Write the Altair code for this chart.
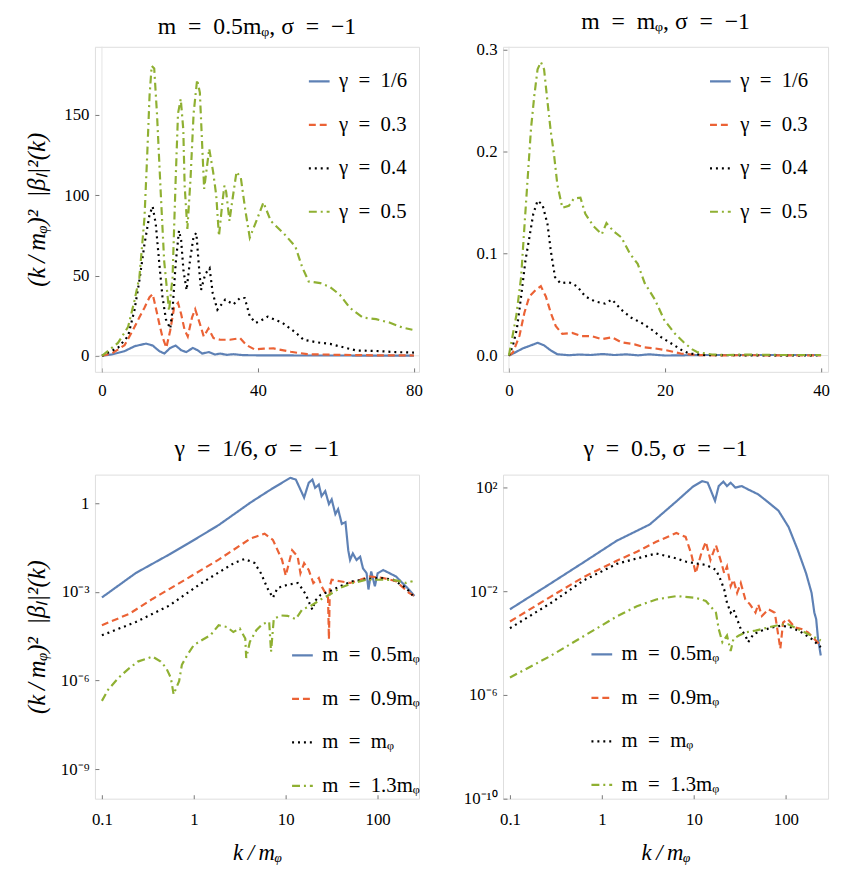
import altair as alt
import pandas as pd

FONT = "Liberation Serif"
COLORS = ["#5E81B5", "#EB6235", "#000000", "#8FB032"]
DASHES = [[1, 0], [7, 4], [2, 4], [8, 4, 2, 4]]

# ---------------- top-left: m = 0.5 m_phi (linear) ----------------
tl_g1_k = [0, 2.5, 5.8, 8.4, 11.3, 13.0, 14.7, 16.0, 17.5, 18.9, 20.3, 21.6, 23.3, 24.5, 25.7, 27.4, 29.0, 30.3, 32.0, 33.7, 36.2, 40, 50, 60, 70, 80]
tl_g1_v = [0, 0.8, 2.9, 6.0, 7.6, 6.4, 2.9, 1.4, 4.9, 6.4, 3.5, 2.3, 4.9, 3.5, 1.4, 2.3, 0.8, 1.4, 0.6, 1.0, 0.4, 0.3, 0.2, 0.2, 0.1, 0.1]
tl_g3_k = [0, 2.5, 5.8, 7.9, 9.6, 10.9, 12.2, 13.0, 13.8, 14.7, 15.5, 16.5, 17.5, 18.5, 19.5, 20.3, 21.2, 22.0, 23.1, 23.9, 25.1, 26.1, 27.3, 28.6, 30.3, 32.8, 35.4, 37.1, 39.1, 41.5, 44.0, 48.4, 52.6, 60, 70, 80]
tl_g3_v = [0, 1.4, 6.6, 15.8, 24, 30, 36.5, 38.5, 30, 20, 11.8, 5, 15.8, 30, 33, 26, 16, 12, 24, 29, 20, 12, 17, 11, 10, 10, 11, 6.6, 4, 4.5, 4.6, 2.5, 1.0, 0.6, 0.3, 0.2]
tl_g4_k = [0, 4.1, 6.7, 8.35, 9.6, 10.9, 12.2, 13.0, 13.8, 14.7, 15.5, 16.4, 17.5, 18.1, 18.9, 19.75, 20.3, 20.9, 21.7, 22.6, 23.5, 24.2, 24.8, 25.4, 26.5, 27.6, 28.4, 29.6, 31.6, 33.7, 35.4, 36.6, 37.9, 39.4, 40.8, 42.5, 46.2, 49.6, 51.7, 55.1, 58.5, 61.9, 65.2, 70.3, 75.3, 80]
tl_g4_v = [0, 5, 12.3, 28.7, 47, 69.5, 88, 93, 82, 57.5, 37, 22.7, 17, 28.7, 57.5, 78, 72, 53, 41, 60, 74.5, 76.5, 57.5, 41, 51, 54.5, 39, 28.7, 35, 32, 36, 36, 24.6, 20.5, 22, 24.4, 20.7, 14.6, 10, 8.4, 7.4, 5.3, 3.3, 3, 2.3, 2]
tl_g5_k = [0, 4.1, 6.7, 8.35, 9.6, 10.9, 11.6, 12.2, 12.75, 13.4, 14.1, 15.1, 15.95, 17.2, 18.1, 18.9, 19.5, 20.2, 20.85, 21.2, 21.9, 22.7, 23.5, 24.4, 25.1, 25.7, 26.2, 27.5, 28.5, 29.3, 30.0, 30.9, 31.4, 31.85, 32.7, 33.5, 34.5, 35.6, 36.8, 37.9, 39.6, 41.4, 43.3, 46.7, 49.6, 51.3, 53.0, 56.0, 58.5, 61.0, 63.5, 66.9, 70.3, 73.7, 77.0, 79.6]
tl_g5_v = [0, 8, 18, 34.6, 49, 86, 125, 162, 180.6, 179, 151, 100, 59, 28, 49, 110, 151, 160, 141, 106, 79, 110, 151, 172, 164, 131, 104, 129, 114.6, 100, 74.6, 96, 106, 102, 84, 98, 114.6, 111, 90, 73.6, 84, 95.5, 84, 76, 68, 55.5, 46.3, 45.3, 42.8, 38, 30, 23.8, 22.8, 20.7, 17.6, 16.2]

# ---------------- top-right: m = m_phi (linear) ----------------
tr_g1_k = [0, 0.3, 1.77, 2.83, 3.67, 4.5, 5.36, 6.2, 7.7, 9, 10.5, 12, 13.5, 15, 16.5, 18, 20, 25, 30, 35, 40]
tr_g1_v = [0, 0.001, 0.007, 0.010, 0.0125, 0.010, 0.005, 0.0013, 0.0003, 0.001, 0.0005, 0.0015, 0.0005, 0.0012, 0.0002, 0.0012, 0.0, 0.0005, 0.0005, 0.0005, 0.0005]
tr_g3_k = [0, 0.51, 1.35, 1.98, 2.62, 3.46, 4.09, 4.73, 5.36, 5.99, 6.84, 8.1, 9.37, 10.6, 11.9, 13.2, 14.4, 16.1, 17.4, 18.7, 20.3, 22.0, 24, 27, 30, 35, 40]
tr_g3_v = [0, 0.003, 0.0194, 0.042, 0.058, 0.0645, 0.068, 0.058, 0.042, 0.029, 0.0212, 0.0222, 0.019, 0.019, 0.016, 0.018, 0.013, 0.011, 0.008, 0.007, 0.005, 0.002, 0.0005, 0.0002, 0.0003, 0.0002, 0.0002]
tr_g4_k = [0, 0.51, 1.01, 1.56, 2.11, 2.62, 3.12, 3.67, 4.3, 4.94, 5.36, 5.9, 6.6, 7.68, 8.73, 9.79, 11.05, 12.3, 13.2, 14.4, 15.7, 17.0, 18.2, 19.5, 21.2, 22.2, 23.1, 25, 30, 35, 40]
tr_g4_v = [0, 0.01, 0.0258, 0.058, 0.093, 0.116, 0.139, 0.152, 0.148, 0.129, 0.103, 0.077, 0.071, 0.072, 0.068, 0.058, 0.053, 0.051, 0.055, 0.045, 0.037, 0.032, 0.026, 0.018, 0.010, 0.005, 0.002, 0.0005, 0.0002, 0.0002, 0.0002]
tr_g5_k = [0, 0.93, 1.56, 1.98, 2.4, 2.83, 3.25, 3.67, 4.09, 4.5, 4.94, 5.36, 5.78, 6.2, 6.84, 7.68, 8.31, 9.16, 9.79, 10.84, 11.9, 12.5, 13.4, 14.4, 15.5, 16.5, 17.4, 18.7, 19.9, 21.2, 22.4, 23.5, 24.1, 26, 28, 30, 35, 40]
tr_g5_v = [0, 0.0385, 0.077, 0.126, 0.174, 0.223, 0.255, 0.281, 0.288, 0.281, 0.249, 0.22, 0.197, 0.168, 0.145, 0.147, 0.154, 0.155, 0.139, 0.127, 0.119, 0.13, 0.122, 0.116, 0.1, 0.09, 0.071, 0.055, 0.035, 0.022, 0.013, 0.006, 0.0035, 0.001, 0.0005, 0.001, 0.0005, 0.0005]

# ---------------- bottom-left: gamma = 1/6 (log10 k, log10 value) ----------------
bl_m05_lk = [-1.0, -0.63, -0.27, -0.06, 0.27, 0.62, 0.84, 1.05, 1.11, 1.20, 1.25, 1.29, 1.32, 1.36, 1.39, 1.43, 1.47, 1.50, 1.54, 1.57, 1.61, 1.65, 1.68, 1.70, 1.73, 1.77, 1.81, 1.84, 1.88, 1.90, 1.93, 1.97, 2.00, 2.06, 2.13, 2.20, 2.27, 2.34, 2.40]
bl_m05_lv = [-3.19, -2.36, -1.74, -1.36, -0.74, 0.03, 0.47, 0.86, 0.80, 0.19, 0.69, 0.80, 0.52, 0.63, 0.24, 0.41, -0.03, 0.13, -0.37, -0.20, -0.70, -0.64, -1.59, -1.92, -1.70, -1.92, -1.81, -2.20, -2.37, -2.92, -2.31, -2.81, -2.37, -2.26, -2.37, -2.48, -2.70, -2.92, -3.14]
bl_m09_lk = [-1.0, -0.70, -0.45, -0.09, 0.27, 0.62, 0.77, 0.86, 0.96, 1.00, 1.07, 1.13, 1.16, 1.20, 1.25, 1.30, 1.36, 1.39, 1.43, 1.46, 1.47, 1.48, 1.50, 1.59, 1.70, 1.81, 1.91, 2.06, 2.20, 2.34, 2.40]
bl_m09_lv = [-4.13, -3.74, -3.24, -2.58, -1.91, -1.19, -1.03, -1.24, -1.92, -2.45, -1.59, -1.81, -2.37, -2.03, -2.26, -2.70, -2.53, -2.81, -3.03, -3.2, -4.6, -2.8, -2.59, -2.64, -2.70, -2.59, -2.48, -2.53, -2.64, -3.03, -3.14]
bl_m10_lk = [-1.0, -0.63, -0.27, 0.09, 0.44, 0.55, 0.66, 0.73, 0.80, 0.86, 0.91, 1.02, 1.13, 1.18, 1.22, 1.26, 1.29, 1.32, 1.38, 1.48, 1.59, 1.73, 1.88, 2.02, 2.17, 2.31, 2.38]
bl_m10_lv = [-4.47, -4.02, -3.47, -2.69, -2.02, -1.89, -2.02, -2.37, -2.87, -3.2, -2.87, -2.76, -2.70, -2.9, -3.1, -3.4, -3.6, -3.3, -3.1, -2.98, -2.81, -2.64, -2.57, -2.53, -2.59, -2.87, -3.12]
bl_m13_lk = [-1.0, -0.93, -0.82, -0.72, -0.61, -0.52, -0.45, -0.36, -0.30, -0.25, -0.22, -0.16, -0.13, -0.07, 0.0, 0.09, 0.18, 0.27, 0.36, 0.43, 0.50, 0.56, 0.57, 0.61, 0.68, 0.75, 0.82, 0.84, 0.87, 0.95, 1.02, 1.11, 1.18, 1.27, 1.38, 1.48, 1.59, 1.73, 1.88, 2.06, 2.20, 2.31, 2.38]
bl_m13_lv = [-6.69, -6.3, -5.91, -5.63, -5.36, -5.27, -5.19, -5.36, -5.58, -5.91, -6.47, -6.02, -5.47, -5.13, -4.8, -4.63, -4.47, -4.13, -4.19, -4.36, -4.24, -4.58, -5.24, -4.69, -4.3, -4.08, -4.02, -5.03, -3.91, -3.8, -3.81, -3.92, -3.59, -3.48, -3.26, -3.09, -2.87, -2.70, -2.59, -2.59, -2.61, -2.70, -2.64]

# ---------------- bottom-right: gamma = 0.5 (log10 k, log10 value) ----------------
br_m05_lk = [-1.0, -0.56, -0.20, 0.16, 0.52, 0.81, 0.99, 1.09, 1.15, 1.18, 1.23, 1.27, 1.32, 1.36, 1.40, 1.45, 1.52, 1.59, 1.70, 1.81, 1.92, 2.03, 2.13, 2.22, 2.28, 2.31, 2.33, 2.35, 2.38]
br_m05_lv = [-2.7, -1.71, -0.89, -0.06, 0.57, 1.46, 2.03, 2.24, 2.18, 1.92, 1.48, 2.05, 2.22, 2.05, 2.18, 1.99, 2.05, 1.92, 1.73, 1.42, 1.10, 0.47, -0.42, -1.31, -2.07, -2.83, -3.08, -3.84, -4.48]
br_m09_lk = [-1.0, -0.56, -0.20, 0.16, 0.38, 0.59, 0.81, 0.91, 0.97, 1.02, 1.08, 1.13, 1.18, 1.24, 1.29, 1.33, 1.36, 1.40, 1.43, 1.47, 1.51, 1.56, 1.61, 1.67, 1.70, 1.74, 1.81, 1.88, 1.94, 1.97, 2.02, 2.10, 2.17, 2.24, 2.31, 2.38]
br_m09_lv = [-3.17, -2.22, -1.46, -0.83, -0.48, -0.10, 0.24, 0.09, -0.55, -1.31, -0.55, -0.10, -0.80, -0.23, -0.80, -1.31, -1.05, -1.81, -1.56, -2.07, -1.69, -2.32, -2.51, -2.83, -2.51, -2.96, -2.70, -2.83, -4.22, -3.21, -3.08, -3.40, -3.46, -3.59, -3.84, -4.10]
br_m10_lk = [-1.0, -0.56, -0.20, 0.16, 0.38, 0.59, 0.81, 0.91, 1.02, 1.13, 1.24, 1.29, 1.33, 1.36, 1.40, 1.43, 1.47, 1.51, 1.56, 1.59, 1.65, 1.74, 1.85, 1.95, 2.06, 2.17, 2.28, 2.38]
br_m10_lv = [-3.43, -2.47, -1.59, -0.95, -0.74, -0.55, -0.74, -0.86, -0.93, -0.99, -1.18, -1.56, -1.94, -2.45, -2.83, -2.70, -3.08, -3.46, -3.71, -3.97, -3.65, -3.52, -3.40, -3.33, -3.40, -3.59, -3.84, -4.16]
br_m13_lk = [-1.0, -0.56, -0.20, 0.16, 0.38, 0.59, 0.81, 1.02, 1.13, 1.24, 1.27, 1.31, 1.36, 1.40, 1.43, 1.49, 1.56, 1.67, 1.81, 1.92, 2.02, 2.13, 2.24, 2.38]
br_m13_lv = [-5.33, -4.5, -3.74, -2.98, -2.58, -2.32, -2.19, -2.26, -2.38, -2.83, -3.46, -3.97, -3.71, -4.31, -3.84, -3.71, -3.59, -3.52, -3.40, -3.31, -3.27, -3.46, -3.65, -3.90]

SP = "\u2002"  # en space, mimics the wide math spacing around '='
GAMMA_LABELS = [f"γ{SP}={SP}1/6", f"γ{SP}={SP}0.3", f"γ{SP}={SP}0.4", f"γ{SP}={SP}0.5"]
MASS_LABELS = [f"m{SP}={SP}0.5mᵩ", f"m{SP}={SP}0.9mᵩ", f"m{SP}={SP}mᵩ", f"m{SP}={SP}1.3mᵩ"]

TITLES = [f"m{SP}={SP}0.5mᵩ, σ{SP}={SP}−1", f"m{SP}={SP}mᵩ, σ{SP}={SP}−1",
          f"γ{SP}={SP}1/6, σ{SP}={SP}−1", f"γ{SP}={SP}0.5, σ{SP}={SP}−1"]
YTITLE = "(k\u2009/\u2009mᵩ)²\u2002|βₗ|²(k)"
XTITLE = "k\u2009/\u2009mᵩ"


def lin_frame(series):
    rows = []
    for name, ks, vs in series:
        for k, v in zip(ks, vs):
            rows.append({"k": k, "v": v, "s": name})
    return pd.DataFrame(rows)


def log_frame(series):
    rows = []
    for name, lks, lvs in series:
        for lk, lv in zip(lks, lvs):
            rows.append({"k": 10 ** lk, "v": 10 ** lv, "s": name})
    return pd.DataFrame(rows)


def sup_expr(pairs):
    e = "round(log(datum.value)/LN10)"
    out = "''"
    for ex, lab in reversed(pairs):
        out = f"({e} == {ex}) ? '{lab}' : {out}"
    return out


def panel(df, labels, xscale, yscale, xaxis, yaxis, title, lx, ly, w, h, zero_lines, toff):
    leg = alt.Legend(orient="none", legendX=lx, legendY=ly, title=None,
                     symbolType="stroke", symbolSize=440, symbolStrokeWidth=2.2,
                     labelFont=FONT, labelFontSize=21, labelColor="black",
                     labelOffset=8, rowPadding=22, padding=0, labelLimit=300)
    x = alt.X("k:Q", scale=xscale, axis=xaxis)
    y = alt.Y("v:Q", scale=yscale, axis=yaxis)
    lines = alt.Chart(df).mark_line(strokeWidth=2.2, clip=True, strokeCap="butt").encode(
        x=x, y=y,
        color=alt.Color("s:N", scale=alt.Scale(domain=labels, range=COLORS), legend=leg),
        strokeDash=alt.StrokeDash("s:N", scale=alt.Scale(domain=labels, range=DASHES), legend=leg),
    )
    layers = []
    if zero_lines:
        zdf = pd.DataFrame({"k": [0], "v": [0]})
        layers.append(alt.Chart(zdf).mark_rule(color="#e4e4e4", strokeWidth=1).encode(
            y=alt.Y("v:Q", scale=yscale, axis=yaxis)))
        layers.append(alt.Chart(zdf).mark_rule(color="#e4e4e4", strokeWidth=1).encode(
            x=alt.X("k:Q", scale=xscale, axis=xaxis)))
    layers.append(lines)
    return alt.layer(*layers).properties(
        width=w, height=h,
        title=alt.TitleParams(title, font=FONT, fontSize=24, fontWeight="normal",
                              color="black", offset=toff),
    )


def yax(values, title=None, label_expr=None):
    kw = dict(values=values, offset=-4, tickSize=4, tickColor="#777", domain=False, grid=False,
              labelPadding=6, labelFont=FONT, labelFontSize=17, labelColor="black",
              minExtent=49, maxExtent=49)
    if label_expr:
        kw["labelExpr"] = label_expr
    if title:
        kw.update(title=title, titleFont=FONT, titleFontSize=25, titleFontWeight="normal",
                  titleFontStyle="italic", titleColor="black", titlePadding=1)
    else:
        kw["title"] = None
    return alt.Axis(**kw)


def xax(values, title=None, fmt=None, pad=11):
    kw = dict(values=values, offset=-4, tickSize=4, tickColor="#777", domain=False, grid=False,
              labelPadding=pad, labelFont=FONT, labelFontSize=17, labelColor="black")
    if fmt:
        kw["format"] = fmt
    if title:
        kw.update(title=title, titleFont=FONT, titleFontSize=23, titleFontWeight="normal",
                  titleFontStyle="italic", titleColor="black", titlePadding=15)
    else:
        kw["title"] = None
    return alt.Axis(**kw)


df_tl = lin_frame(list(zip(GAMMA_LABELS, [tl_g1_k, tl_g3_k, tl_g4_k, tl_g5_k], [tl_g1_v, tl_g3_v, tl_g4_v, tl_g5_v])))
df_tr = lin_frame(list(zip(GAMMA_LABELS, [tr_g1_k, tr_g3_k, tr_g4_k, tr_g5_k], [tr_g1_v, tr_g3_v, tr_g4_v, tr_g5_v])))
df_bl = log_frame(list(zip(MASS_LABELS, [bl_m05_lk, bl_m09_lk, bl_m10_lk, bl_m13_lk], [bl_m05_lv, bl_m09_lv, bl_m10_lv, bl_m13_lv])))
df_br = log_frame(list(zip(MASS_LABELS, [br_m05_lk, br_m09_lk, br_m10_lk, br_m13_lk], [br_m05_lv, br_m09_lv, br_m10_lv, br_m13_lv])))

p1 = panel(df_tl, GAMMA_LABELS,
           alt.Scale(domain=[-1.8, 81.3], nice=False, zero=False),
           alt.Scale(domain=[-10, 192.5], nice=False, zero=False),
           xax([0, 40, 80]), yax([0, 50, 100, 150], YTITLE),
           TITLES[0], 215, 23, 328, 329, True, 7)
p2 = panel(df_tr, GAMMA_LABELS,
           alt.Scale(domain=[-0.76, 40.9], nice=False, zero=False),
           alt.Scale(domain=[-0.016, 0.303], nice=False, zero=False),
           xax([0, 20, 40]), yax([0, 0.1, 0.2, 0.3]),
           TITLES[1], 208, 23, 329, 329, True, 7)

bl_lab = sup_expr([(0, "1"), (-3, "10⁻³"), (-6, "10⁻⁶"), (-9, "10⁻⁹")])
br_lab = sup_expr([(2, "10²"), (-2, "10⁻²"), (-6, "10⁻⁶"), (-10, "10⁻¹⁰")])

p3 = panel(df_bl, MASS_LABELS,
           alt.Scale(type="log", domain=[0.084, 282], nice=False),
           alt.Scale(type="log", domain=[1e-10, 9.3], nice=False),
           xax([0.1, 1, 10, 100], XTITLE, "~g", 13), yax([1, 1e-3, 1e-6, 1e-9], YTITLE, bl_lab),
           TITLES[2], 198, 171, 328, 328, False, 14)
p4 = panel(df_br, MASS_LABELS,
           alt.Scale(type="log", domain=[0.084, 288], nice=False),
           alt.Scale(type="log", domain=[1e-10, 310], nice=False),
           xax([0.1, 1, 10, 100], XTITLE, "~g", 13), yax([100, 1e-2, 1e-6, 1e-10], None, br_lab),
           TITLES[3], 88, 170, 329, 328, False, 14)

chart = alt.concat(p1, p2, p3, p4, columns=2, bounds="flush",
                   spacing=alt.RowColnumber(row=104, column=85)).resolve_scale(
    color="independent", strokeDash="independent").resolve_legend(
    color="independent", strokeDash="independent").properties(
    padding={"left": 16, "top": -4, "right": 5, "bottom": 5}
).configure_view(stroke="#888", strokeWidth=1).configure(background="white")

chart.save("out.html", embed_options={"renderer": "svg", "actions": False})
